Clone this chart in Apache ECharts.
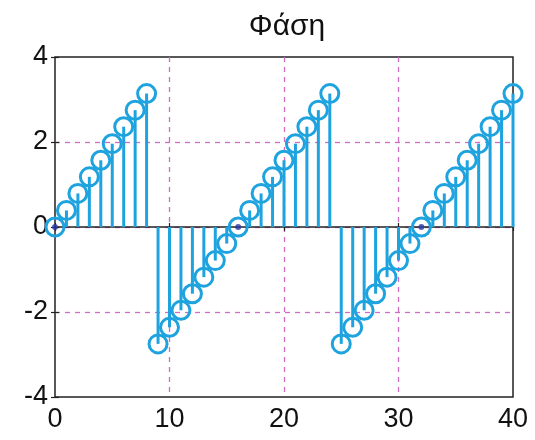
<!DOCTYPE html>
<html><head><meta charset="utf-8">
<script src="https://cdn.jsdelivr.net/npm/echarts@6/dist/echarts.min.js"></script>
<style>html,body{margin:0;padding:0;background:#fff}#c{width:535px;height:440px}</style>
</head><body><div id="c"></div>
<script>
const titleText = 'Φάση';
const xTicks = [0, 10, 20, 30, 40];
const yTicks = [-4, -2, 0, 2, 4];
const nValues = [0,1,2,3,4,5,6,7,8,9,10,11,12,13,14,15,16,17,18,19,20,21,22,23,24,25,26,27,28,29,30,31,32,33,34,35,36,37,38,39,40];
const phaseValues = [0,0.39,0.79,1.18,1.57,1.96,2.36,2.75,3.14,-2.75,-2.36,-1.96,-1.57,-1.18,-0.79,-0.39,0,0.39,0.79,1.18,1.57,1.96,2.36,2.75,3.14,-2.75,-2.36,-1.96,-1.57,-1.18,-0.79,-0.39,0,0.39,0.79,1.18,1.57,1.96,2.36,2.75,3.14];

const pts = nValues.map((n, i) => [n, phaseValues[i]]);
const zeroPts = pts.filter(p => p[1] === 0);
const stemColor = '#1ea3df';
const gridColor = '#cf6cc4';
const font = 'Liberation Sans, Arial, sans-serif';
const xMin = xTicks[0], xMax = xTicks[xTicks.length-1];
const yMin = yTicks[0], yMax = yTicks[yTicks.length-1];

const tick = {show: true, inside: true, length: 4, lineStyle: {color: '#222', width: 1.2}};
const split = {show: true, showMinLine: false, showMaxLine: false, lineStyle: {color: gridColor, type: [5, 5], width: 1.3}};

const chart = echarts.init(document.getElementById('c'), null, {renderer: 'canvas'});
chart.setOption({
  animation: false,
  backgroundColor: '#fff',
  title: {text: titleText, left: 282, top: 7, textAlign: 'center',
    textStyle: {fontFamily: font, fontSize: 30, fontWeight: 'normal', color: '#111'}},
  grid: {left: 55, right: 22, top: 57, bottom: 43, show: true, borderColor: '#222', borderWidth: 1.5, backgroundColor: 'transparent'},
  xAxis: [
    {type: 'value', min: xMin, max: xMax, interval: 10,
      axisLine: {show: false}, axisTick: tick,
      axisLabel: {fontFamily: font, fontSize: 27, color: '#111', margin: 9},
      splitLine: split},
    {type: 'value', position: 'top', min: xMin, max: xMax, interval: 10,
      axisLine: {show: false}, axisTick: tick, axisLabel: {show: false}, splitLine: {show: false}}
  ],
  yAxis: [
    {type: 'value', min: yMin, max: yMax, interval: 2,
      axisLine: {show: false}, axisTick: tick,
      axisLabel: {fontFamily: font, fontSize: 27, color: '#111', margin: 7, padding: [5, 0, 0, 0]},
      splitLine: split},
    {type: 'value', position: 'right', min: yMin, max: yMax, interval: 2,
      axisLine: {show: false}, axisTick: tick, axisLabel: {show: false}, splitLine: {show: false}}
  ],
  series: [
    {type: 'line', data: [[xMin, 0], [xMax, 0]], symbol: 'none', z: 2,
      lineStyle: {color: '#222', width: 1.5}},
    {type: 'custom', data: pts, z: 3, clip: false,
      renderItem: function (params, api) {
        const a = api.coord([api.value(0), 0]);
        const b = api.coord([api.value(0), api.value(1)]);
        return {type: 'line', shape: {x1: a[0], y1: a[1], x2: b[0], y2: b[1]},
          style: {stroke: stemColor, lineWidth: 3}};
      }},
    {type: 'scatter', data: pts, symbol: 'circle', symbolSize: 18, z: 4, clip: false,
      itemStyle: {color: 'rgba(0,0,0,0)', borderColor: stemColor, borderWidth: 3, opacity: 1}},
    {type: 'scatter', data: zeroPts, symbol: 'circle', symbolSize: 6, z: 5,
      itemStyle: {color: '#2a3aa8'}}
  ]
});
</script></body></html>
